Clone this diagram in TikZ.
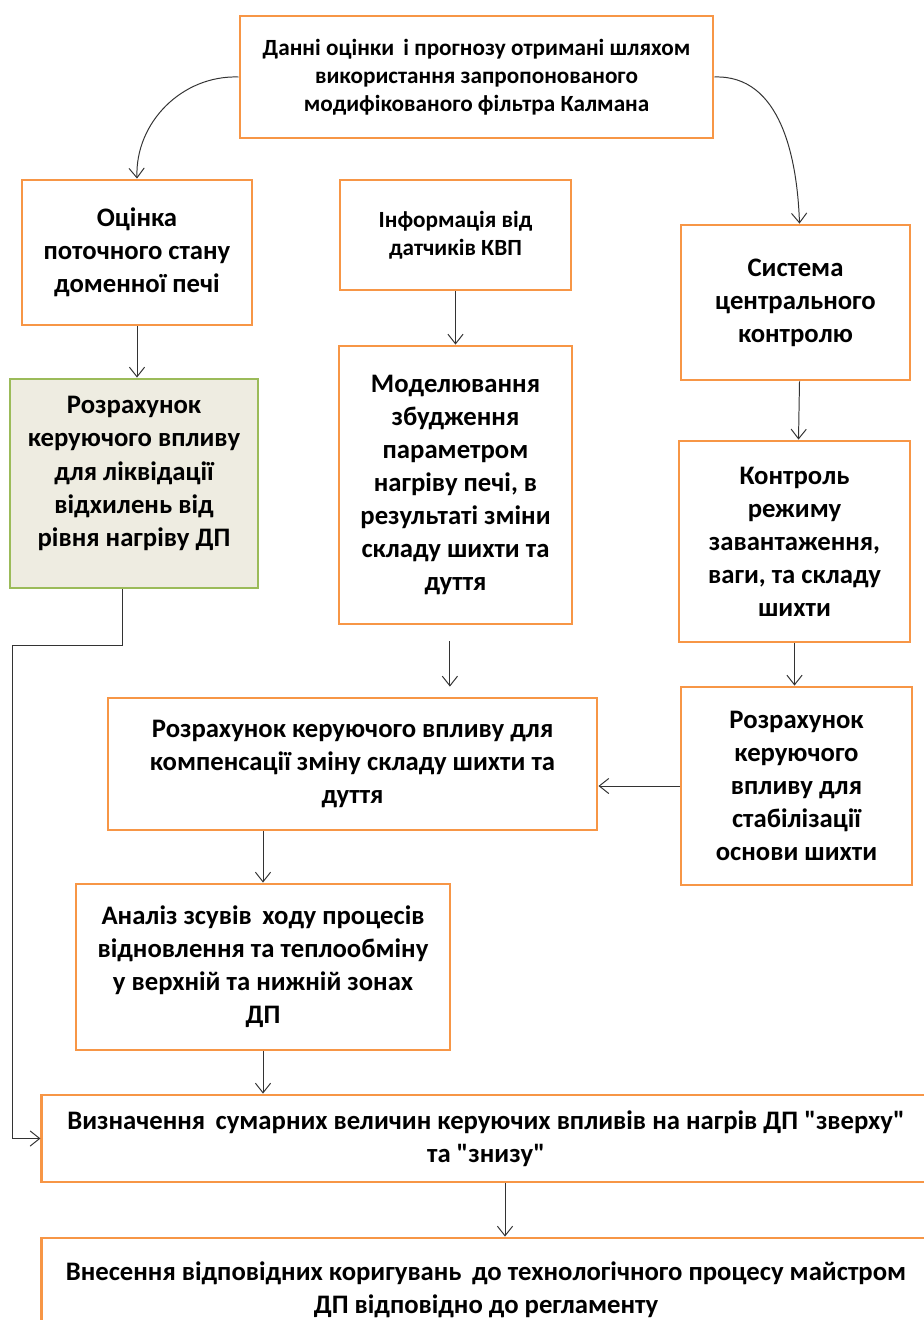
\documentclass[tikz,border=0pt]{standalone}
\usepackage{fontspec}
\setmainfont{Carlito}
\usetikzlibrary{arrows.meta}
\definecolor{boxorange}{HTML}{F79646}
\definecolor{boxgreen}{HTML}{9BBB59}
\definecolor{boxbeige}{HTML}{EEECE1}
\begin{document}
\begin{tikzpicture}[
    x=0.025cm, y=-0.025cm,
    blk/.style={draw=boxorange, line width=2pt, fill=white, align=center, inner sep=2pt,
      font=\bfseries\fontsize{19}{23.5}\selectfont},
    small/.style={font=\bfseries\fontsize{16.5}{20}\selectfont},
    calc/.style={blk, draw=boxgreen, fill=boxbeige},
    link/.style={draw=black!80, line width=0.7pt, -{Straight Barb[length=2.4mm,width=3.8mm]}},
  ]
  \useasboundingbox (0,0) rectangle (923,1320);
  % upper row
  \node[blk, small, minimum width=11.825cm, minimum height=3.05cm] (ekf) at (476.5,77)
    {Данні оцінки\, і прогнозу отримані шляхом\\використання запропонованого\\модифікованого фільтра Калмана};
  \node[blk, minimum width=5.75cm, minimum height=3.625cm] (est) at (137,252.5)
    {Оцінка\\поточного стану\\доменної печі};
  \node[blk, small, minimum width=5.775cm, minimum height=2.75cm] (info) at (455.5,235)
    {Інформація від\\датчиків КВП};
  \node[blk, minimum width=5.725cm, minimum height=3.875cm] (scc) at (795.5,302.5)
    {Система\\центрального\\контролю};
  % middle row
  \node[calc, minimum width=6.2cm, minimum height=5.225cm] (dev) at (134,483.5)
    {Розрахунок\\керуючого впливу\\для ліквідації\\відхилень від\\рівня нагріву ДП\\[-0.22cm]};
  \node[blk, minimum width=5.825cm, minimum height=6.95cm] (model) at (455.5,485)
    {Моделювання\\збудження\\параметром\\нагріву печі, в\\результаті зміни\\складу шихти та\\дуття};
  \node[blk, minimum width=5.775cm, minimum height=5.025cm] (load) at (794.5,541.5)
    {Контроль\\режиму\\завантаження,\\ваги, та складу\\шихти};
  \node[blk, minimum width=12.225cm, minimum height=3.3cm] (comp) at (352.5,764)
    {Розрахунок керуючого впливу для\\компенсації зміну складу шихти та\\дуття};
  \node[blk, minimum width=5.775cm, minimum height=4.95cm] (stab) at (796.5,786)
    {Розрахунок\\керуючого\\впливу для\\стабілізації\\основи шихти};
  \node[blk, minimum width=9.35cm, minimum height=4.15cm] (anal) at (263,967)
    {Аналіз зсувів\, ходу процесів\\відновлення та теплообміну\\у верхній та нижній зонах\\ДП};
  % bottom row
  \node[blk, minimum width=22.2cm, minimum height=2.175cm] (total) at (486,1138.5)
    {Визначення\, сумарних величин керуючих впливів на нагрів ДП \textquotedbl зверху\textquotedbl\\та \textquotedbl знизу\textquotedbl};
  \node[blk, minimum width=22.2cm, minimum height=2.6cm] (apply) at (486,1290)
    {Внесення відповідних коригувань\, до технологічного процесу майстром\\ДП відповідно до регламенту};
  % connectors
  \coordinate (bend) at (12,645);
  \draw[link] (ekf.west) to[out=178, in=92] (est.north);
  \draw[link] (ekf.east) to[out=2, in=92] ([xshift=0.1cm]scc.north);
  \draw[link] (est.south) -- (est.south |- dev.north);
  \draw[link] (info.south) -- (model.north);
  \draw[link] ([xshift=0.1cm]scc.north |- scc.south) -- ([xshift=0.1cm]load.north);
  \draw[link, shorten <=0.4cm, shorten >=0.25cm] ([xshift=-0.14cm]model.south) -- ([xshift=-0.14cm]model.south |- comp.north);
  \draw[link] (load.south) -- (load.south |- stab.north);
  \draw[link] (stab.west) -- (stab.west -| comp.east);
  \draw[link] (anal.north |- comp.south) -- (anal.north);
  \draw[link] (anal.south) -- (anal.south |- total.north);
  \draw[link] ([xshift=-0.3cm]dev.south) |- (bend) |- (total.west);
  \draw[link] ([xshift=0.475cm]total.south) -- ([xshift=0.475cm]total.south |- apply.north);
\end{tikzpicture}
\end{document}
